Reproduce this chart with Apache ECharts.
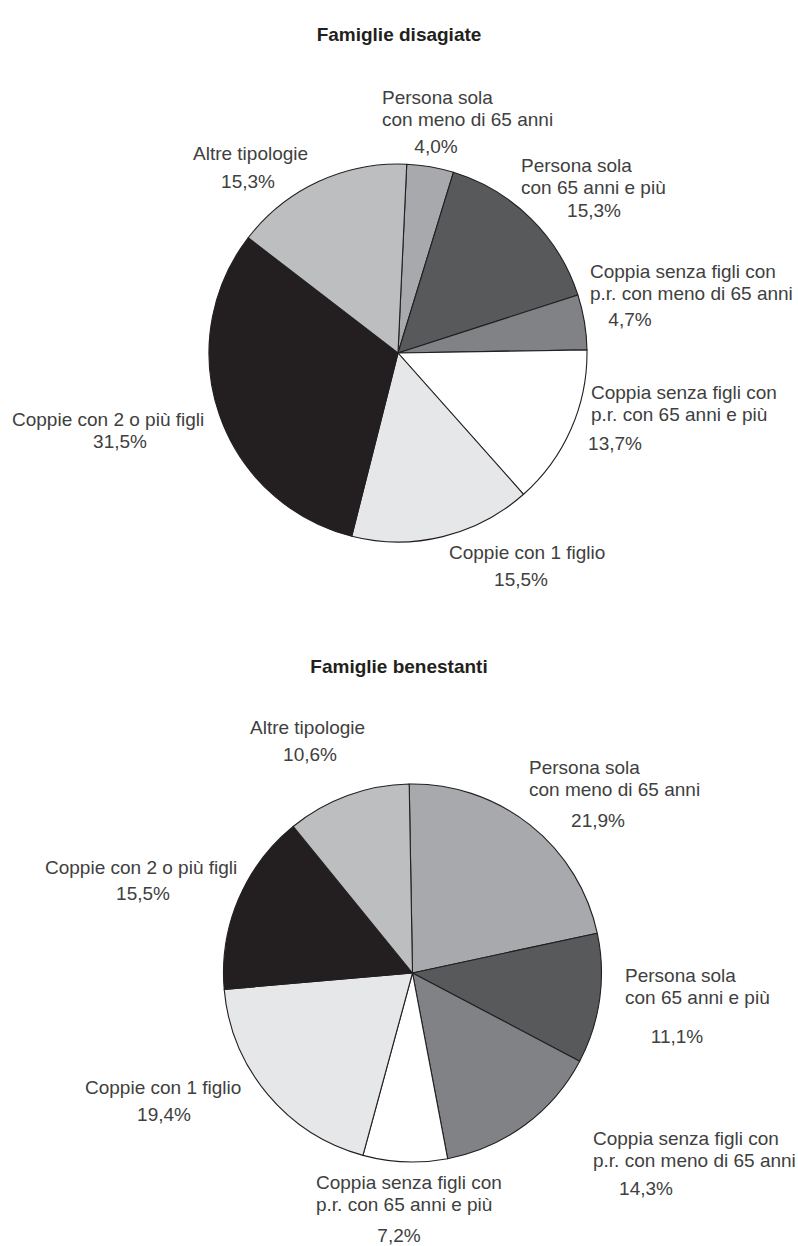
<!DOCTYPE html>
<html>
<head>
<meta charset="utf-8">
<title>Famiglie disagiate e benestanti</title>
<script src="https://cdn.jsdelivr.net/npm/echarts@6/dist/echarts.min.js"></script>
<style>
  html, body { margin: 0; padding: 0; background: #ffffff; }
  #chart { width: 798px; height: 1246px; }
</style>
</head>
<body>
<div id="chart"></div>
<script>
// Household types (same order for both pies, clockwise from the top)
const categories = [
  'Persona sola\ncon meno di 65 anni',
  'Persona sola\ncon 65 anni e più',
  'Coppia senza figli con\np.r. con meno di 65 anni',
  'Coppia senza figli con\np.r. con 65 anni e più',
  'Coppie con 1 figlio',
  'Coppie con 2 o più figli',
  'Altre tipologie'
];
// Shares (%) per household type
const disagiate = [4.0, 15.3, 4.7, 13.7, 15.5, 31.5, 15.3];
const benestanti = [21.9, 11.1, 14.3, 7.2, 19.4, 15.5, 10.6];
const chartTitles = ['Famiglie disagiate', 'Famiglie benestanti'];

// Grey scale fills, one per household type
const sliceColors = ['#a7a9ac', '#58595b', '#808285', '#ffffff', '#e6e7e8', '#231f20', '#bcbec0'];

// Label anchors: names -> [left x, first line centre y]; shares -> [centre x, centre y]
const nameAnchors = [
  [[382, 97], [521, 165], [590, 271], [591, 392], [449, 552], [12, 419], [193, 153]],
  [[529, 767], [625, 975], [593, 1138], [316, 1182], [85, 1087], [45, 867], [250, 727]]
];
const shareAnchors = [
  [[436, 146], [594, 210], [630, 319], [615, 443], [521, 579], [120, 441], [248, 181]],
  [[598, 820], [677, 1036], [646, 1188], [399, 1235], [164, 1114], [143, 893], [310, 754]]
];
const pieCenters = [[398, 353], [412.5, 973]];
const pieStart = [87.35, 91];
const pieRadius = 189;
const titleTops = [20, 652];

const FONT = '"Liberation Sans", Arial, Helvetica, sans-serif';
const FONT_SIZE = 19;
const LINE_H = 22;

function shareText(v) {
  return v.toFixed(1).replace('.', ',') + '%';
}

function toData(values) {
  return values.map((v, i) => ({ name: categories[i], value: v }));
}

const series = [];
[disagiate, benestanti].forEach((values, k) => {
  // slices + type names
  series.push({
    type: 'pie',
    center: pieCenters[k],
    radius: pieRadius,
    startAngle: pieStart[k],
    clockwise: true,
    avoidLabelOverlap: false,
    minShowLabelAngle: 0,
    silent: true,
    data: toData(values),
    itemStyle: {
      color: p => sliceColors[p.dataIndex],
      borderColor: '#231f20',
      borderWidth: 1.1
    },
    label: {
      show: true,
      position: 'outside',
      formatter: p => p.name,
      fontFamily: FONT,
      fontSize: FONT_SIZE,
      lineHeight: LINE_H,
      color: '#404040'
    },
    labelLine: { show: false },
    labelLayout: p => {
      const a = nameAnchors[k][p.dataIndex];
      return { x: a[0], y: a[1] - LINE_H / 2, align: 'left', verticalAlign: 'top' };
    },
    emphasis: { disabled: true }
  });
  // share labels on an invisible twin of the same pie
  series.push({
    type: 'pie',
    center: pieCenters[k],
    radius: pieRadius,
    startAngle: pieStart[k],
    clockwise: true,
    avoidLabelOverlap: false,
    minShowLabelAngle: 0,
    silent: true,
    data: toData(values),
    itemStyle: { color: 'rgba(0,0,0,0)', borderWidth: 0 },
    label: {
      show: true,
      position: 'outside',
      formatter: p => shareText(p.value),
      fontFamily: FONT,
      fontSize: FONT_SIZE,
      color: '#404040'
    },
    labelLine: { show: false },
    labelLayout: p => {
      const a = shareAnchors[k][p.dataIndex];
      return { x: a[0], y: a[1], align: 'center', verticalAlign: 'middle' };
    },
    emphasis: { disabled: true }
  });
});

const chart = echarts.init(document.getElementById('chart'), null, { renderer: 'svg' });
chart.setOption({
  animation: false,
  backgroundColor: '#ffffff',
  title: chartTitles.map((t, i) => ({
    text: t,
    left: 'center',
    top: titleTops[i],
    textStyle: { fontFamily: FONT, fontSize: 19, fontWeight: 'bold', color: '#231f20' }
  })),
  series: series
});
</script>
</body>
</html>
